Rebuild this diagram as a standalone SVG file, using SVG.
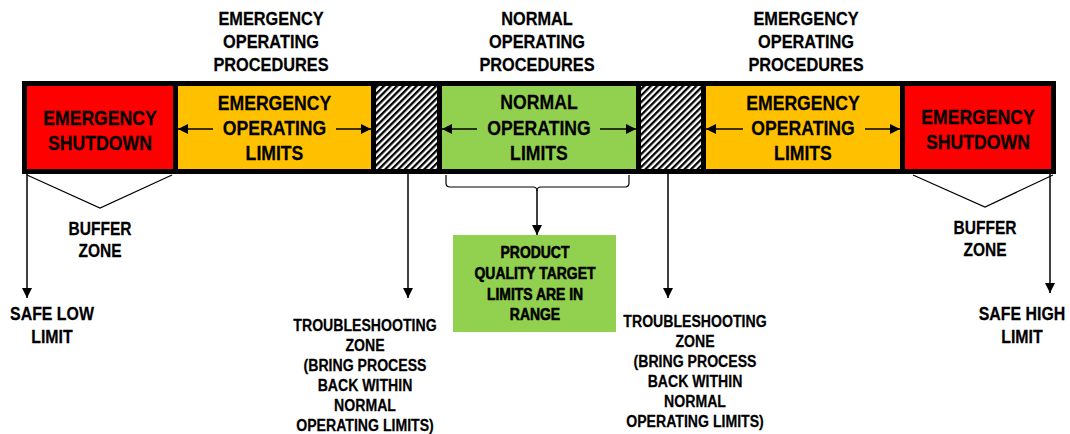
<svg xmlns="http://www.w3.org/2000/svg" width="1070" height="434" viewBox="0 0 1070 434">
<defs>
<style>
text{font-family:"Liberation Sans",Arial,sans-serif;font-weight:bold;fill:#000;text-anchor:middle;stroke:#000;stroke-width:0.25}
.box{font-size:21px}
.top{font-size:19px}
.lbl{font-size:18.5px}
.ts{font-size:17.2px}
.pq{font-size:17px;stroke-width:0.6}
.ln{stroke:#000;stroke-width:1.5;fill:none}
.thin{stroke:#000;stroke-width:1.2;fill:none}
</style>
<pattern id="hatch" width="4.6" height="10" patternUnits="userSpaceOnUse" patternTransform="rotate(45)">
<rect width="4.6" height="10" fill="#fff"/>
<rect width="2.3" height="10" fill="#000"/>
</pattern>
<marker id="ah" viewBox="0 0 10 10" refX="10" refY="5" markerWidth="10" markerHeight="10" markerUnits="userSpaceOnUse" orient="auto">
<path d="M0,0 L10,5 L0,10 z" fill="#000"/>
</marker>
</defs>
<rect width="1070" height="434" fill="#fff"/>

<g id="bar">
<rect x="22" y="81" width="1034" height="93" fill="#000"/>
</g>

<g id="shutdown-low">
<rect x="27" y="86" width="146" height="83" fill="#FF0000"/>
<g transform="translate(100,0) scale(0.84,1)">
<text class="box" x="0" y="125">EMERGENCY</text>
<text class="box" x="0" y="150">SHUTDOWN</text>
</g>
</g>
<g id="eol-low">
<rect x="178" y="86" width="193" height="83" fill="#FFC000"/>
<g transform="translate(274.5,0) scale(0.84,1)">
<text class="box" x="0" y="110">EMERGENCY</text>
<text class="box" x="0" y="135">OPERATING</text>
<text class="box" x="0" y="160">LIMITS</text>
</g>
</g>
<g id="trouble-low-zone">
<rect x="376" y="86" width="61" height="83" fill="url(#hatch)"/>
</g>
<g id="nol">
<rect x="442" y="86" width="194" height="83" fill="#92D050"/>
<g transform="translate(539,0) scale(0.84,1)">
<text class="box" x="0" y="109">NORMAL</text>
<text class="box" x="0" y="135">OPERATING</text>
<text class="box" x="0" y="160">LIMITS</text>
</g>
</g>
<g id="trouble-high-zone">
<rect x="641" y="86" width="60" height="83" fill="url(#hatch)"/>
</g>
<g id="eol-high">
<rect x="706" y="86" width="194" height="83" fill="#FFC000"/>
<g transform="translate(803,0) scale(0.84,1)">
<text class="box" x="0" y="110">EMERGENCY</text>
<text class="box" x="0" y="135">OPERATING</text>
<text class="box" x="0" y="160">LIMITS</text>
</g>
</g>
<g id="shutdown-high">
<rect x="905" y="86" width="146" height="83" fill="#FF0000"/>
<g transform="translate(978,0) scale(0.84,1)">
<text class="box" x="0" y="124.5">EMERGENCY</text>
<text class="box" x="0" y="149.5">SHUTDOWN</text>
</g>
</g>

<g id="eop-low-label" transform="translate(271,0) scale(0.86,1)">
<text class="top" x="0" y="25">EMERGENCY</text>
<text class="top" x="0" y="48">OPERATING</text>
<text class="top" x="0" y="71">PROCEDURES</text>
</g>
<g id="nop-label" transform="translate(537,0) scale(0.86,1)">
<text class="top" x="0" y="25">NORMAL</text>
<text class="top" x="0" y="48">OPERATING</text>
<text class="top" x="0" y="71">PROCEDURES</text>
</g>
<g id="eop-high-label" transform="translate(806,0) scale(0.86,1)">
<text class="top" x="0" y="25">EMERGENCY</text>
<text class="top" x="0" y="48">OPERATING</text>
<text class="top" x="0" y="71">PROCEDURES</text>
</g>

<g id="buffer-low" transform="translate(100,0) scale(0.84,1)">
<text class="lbl" x="0" y="235">BUFFER</text>
<text class="lbl" x="0" y="257">ZONE</text>
</g>
<g id="buffer-high" transform="translate(985,0) scale(0.84,1)">
<text class="lbl" x="0" y="234">BUFFER</text>
<text class="lbl" x="0" y="256">ZONE</text>
</g>
<g id="safe-low" transform="translate(52,0) scale(0.86,1)">
<text class="lbl" x="0" y="320">SAFE LOW</text>
<text class="lbl" x="0" y="343">LIMIT</text>
</g>
<g id="safe-high" transform="translate(1022,0) scale(0.86,1)">
<text class="lbl" x="0" y="320">SAFE HIGH</text>
<text class="lbl" x="0" y="343">LIMIT</text>
</g>
<g id="trouble-low" transform="translate(365,0) scale(0.82,1)">
<text class="ts" x="0" y="331">TROUBLESHOOTING</text>
<text class="ts" x="0" y="351">ZONE</text>
<text class="ts" x="0" y="371">(BRING PROCESS</text>
<text class="ts" x="0" y="391">BACK WITHIN</text>
<text class="ts" x="0" y="411">NORMAL</text>
<text class="ts" x="0" y="431">OPERATING LIMITS)</text>
</g>
<g id="trouble-high" transform="translate(695,0) scale(0.82,1)">
<text class="ts" x="0" y="327">TROUBLESHOOTING</text>
<text class="ts" x="0" y="347">ZONE</text>
<text class="ts" x="0" y="367">(BRING PROCESS</text>
<text class="ts" x="0" y="387">BACK WITHIN</text>
<text class="ts" x="0" y="407">NORMAL</text>
<text class="ts" x="0" y="427">OPERATING LIMITS)</text>
</g>
<g id="product-quality">
<rect x="453" y="235" width="163" height="97" fill="#92D050"/>
<g transform="translate(535,0) scale(0.82,1)">
<text class="pq" x="0" y="258">PRODUCT</text>
<text class="pq" x="0" y="279">QUALITY TARGET</text>
<text class="pq" x="0" y="300">LIMITS ARE IN</text>
<text class="pq" x="0" y="320">RANGE</text>
</g>
</g>

<g id="connectors">
<line class="ln" x1="213" y1="129" x2="178" y2="129" marker-end="url(#ah)"/>
<line class="ln" x1="336" y1="129" x2="371" y2="129" marker-end="url(#ah)"/>
<line class="ln" x1="477" y1="129" x2="442" y2="129" marker-end="url(#ah)"/>
<line class="ln" x1="600" y1="129" x2="636" y2="129" marker-end="url(#ah)"/>
<line class="ln" x1="743" y1="129" x2="706" y2="129" marker-end="url(#ah)"/>
<line class="ln" x1="865" y1="129" x2="900" y2="129" marker-end="url(#ah)"/>
<polyline class="thin" points="27,175 100,208 172,175"/>
<polyline class="thin" points="913,175 985,207 1053,175"/>
<line class="ln" x1="27" y1="174" x2="27" y2="298" marker-end="url(#ah)"/>
<line class="ln" x1="1050" y1="174" x2="1050" y2="293" marker-end="url(#ah)"/>
<line class="ln" x1="408" y1="174" x2="408" y2="298" marker-end="url(#ah)"/>
<line class="ln" x1="668" y1="174" x2="668" y2="298" marker-end="url(#ah)"/>
<path class="thin" d="M446,175 v8 q0,4 4,4 h83 q4,0 4,4 q0,-4 4,-4 h84 q4,0 4,-4 v-8"/>
<line class="ln" x1="537" y1="190" x2="537" y2="235" marker-end="url(#ah)"/>
</g>
</svg>
